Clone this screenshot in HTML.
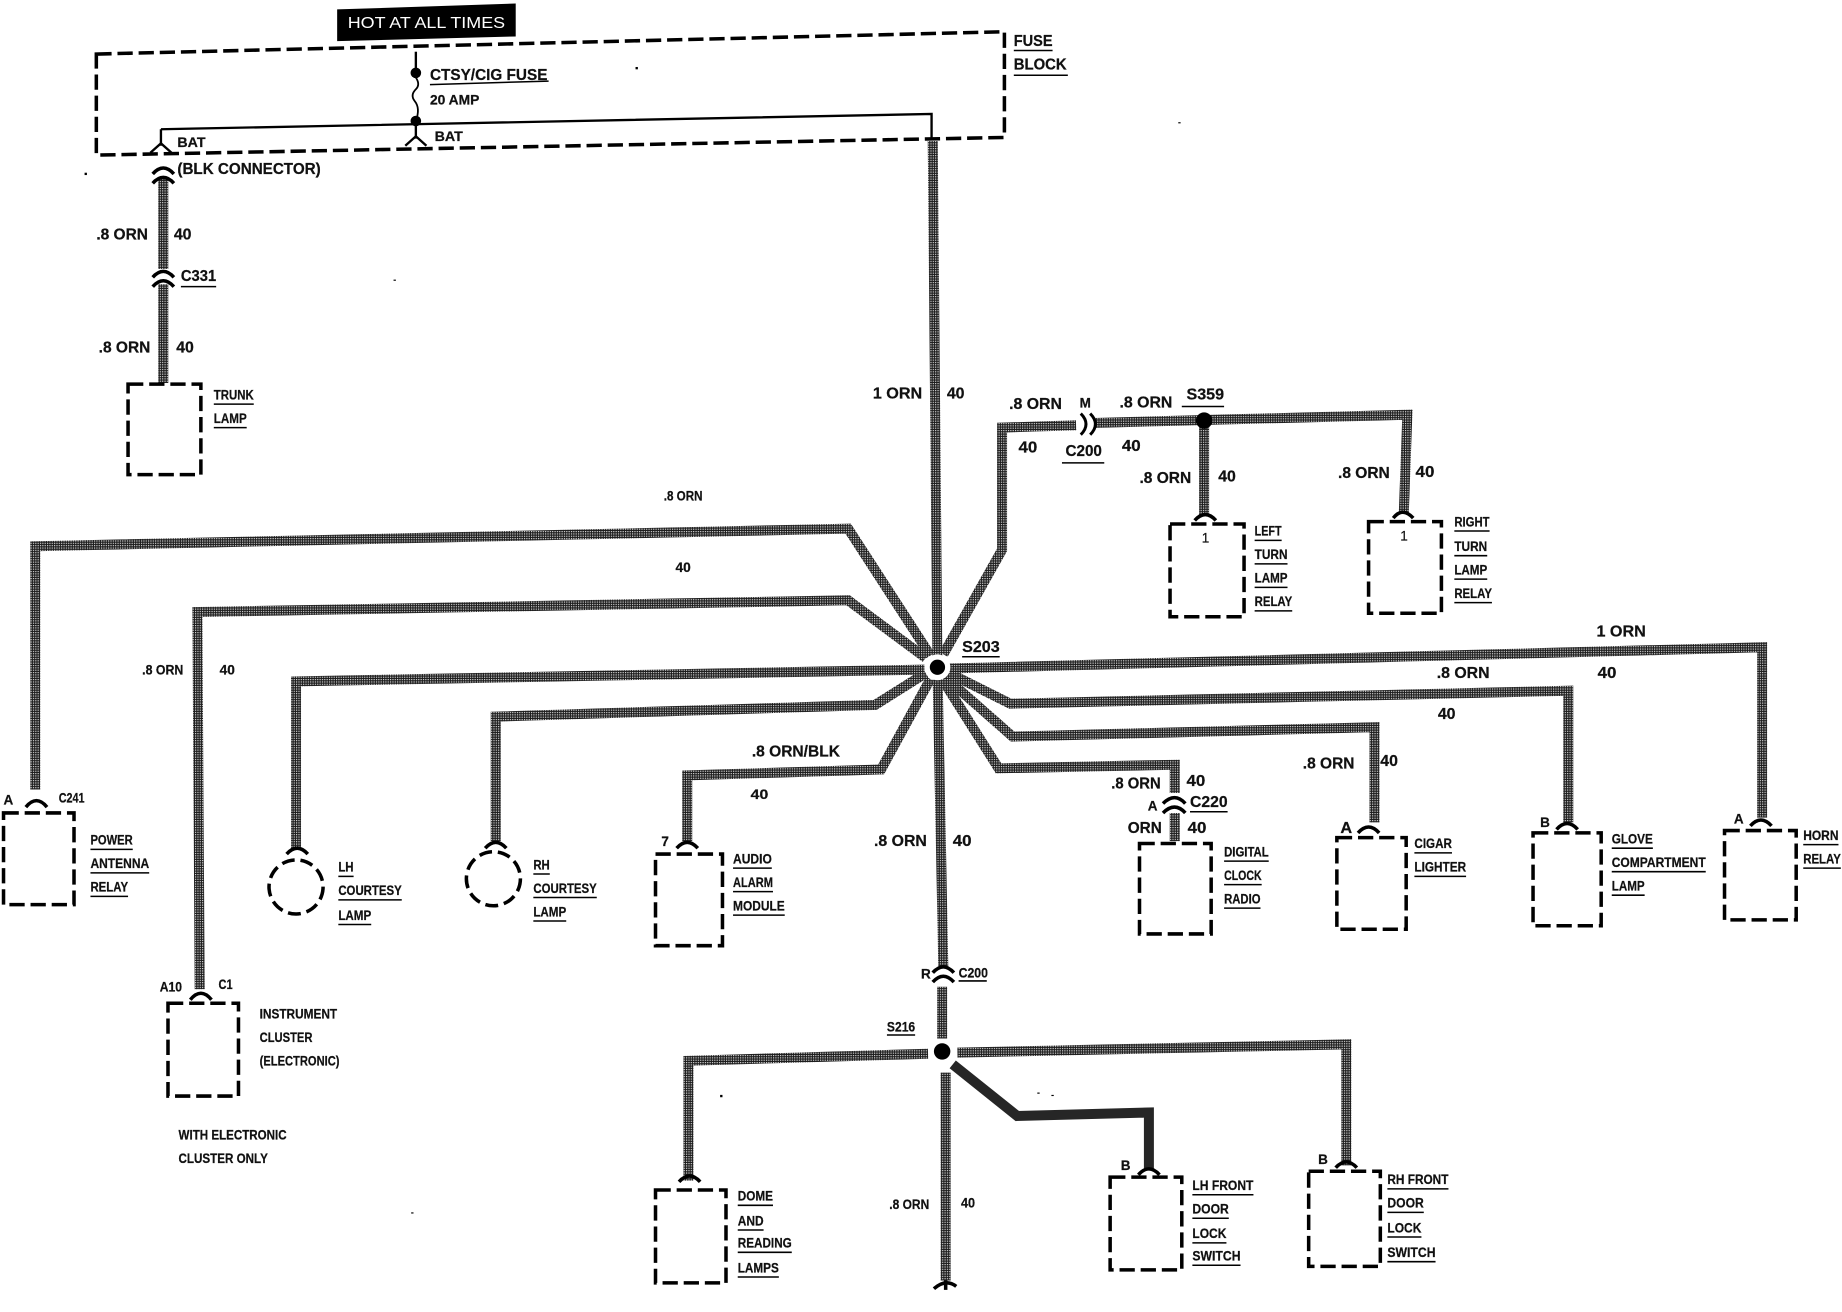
<!DOCTYPE html>
<html><head><meta charset="utf-8"><style>
html,body{margin:0;padding:0;background:#fff}
svg{display:block}
text{font-family:"Liberation Sans",sans-serif;font-weight:700;font-size:13px;fill:#111;stroke:#111;stroke-width:.2}
.s{font-size:11.5px}
.w{fill:none;stroke:url(#d);stroke-width:8.5;stroke-linejoin:miter}
.b{fill:none;stroke:#000;stroke-width:3;stroke-dasharray:13 5}
.t{fill:none;stroke:#000;stroke-width:2}
.c{fill:none;stroke:#000;stroke-width:3}
.u{stroke:#000;stroke-width:1.3}
</style></head><body>
<svg width="1842" height="1312" viewBox="0 0 1568 1116.8" xmlns="http://www.w3.org/2000/svg">
<defs><pattern id="d" width="2" height="2" patternUnits="userSpaceOnUse"><rect width="2" height="2" fill="#1c1c1c"/><rect width="1" height="1" fill="#ddd"/></pattern></defs>

<!-- label -->
<polygon points="287,8 439,3 439,31 287,35" fill="#000"/>
<text x="296" y="24" style="fill:#fff;stroke:none;font-size:13px;font-weight:400" textLength="134" lengthAdjust="spacingAndGlyphs">HOT AT ALL TIMES</text>

<!-- fuse block -->
<polygon points="82,46 855,27 855,117 82,132" class="b"/>
<path class="t" d="M354,44V62"/><circle cx="354" cy="62" r="4.5"/>
<path class="t" style="stroke-width:1.5" d="M354,66q4,6 0,10q-5,5 -1,10q5,6 1,17"/>
<circle cx="354" cy="103" r="4.5"/>
<path class="t" d="M137,110L793,97V118M354,103V118M137,110V124"/>
<path class="t" d="M128,130L137,122L146,130M345,124L354,116L363,124"/>
<text x="151" y="125" class="s" textLength="24" lengthAdjust="spacingAndGlyphs">BAT</text>
<text x="370" y="120" class="s" textLength="24" lengthAdjust="spacingAndGlyphs">BAT</text>
<text x="366" y="68" textLength="100" lengthAdjust="spacingAndGlyphs">CTSY/CIG FUSE</text>
<path class="u" d="M366,72L467,69"/>
<text x="366" y="89" class="s" textLength="42" lengthAdjust="spacingAndGlyphs">20 AMP</text>
<text x="863" y="39" textLength="33" lengthAdjust="spacingAndGlyphs">FUSE</text>
<path class="u" d="M863,43H896"/>
<text x="863" y="59" textLength="45" lengthAdjust="spacingAndGlyphs">BLOCK</text>
<path class="u" d="M863,64H909"/>
<text x="151" y="148" textLength="122" lengthAdjust="spacingAndGlyphs">(BLK CONNECTOR)</text>

<!-- left feed -->
<path class="w" d="M139,152V229M139,242V326"/>
<path class="c" d="M130,148Q139,138 148,148M130,156Q139,146 148,156M130,236Q139,226 148,236M130,244Q139,234 148,244" />
<text x="82" y="204" textLength="44" lengthAdjust="spacingAndGlyphs">.8 ORN</text>
<text x="148" y="204" textLength="15" lengthAdjust="spacingAndGlyphs">40</text>
<text x="154" y="239" textLength="30" lengthAdjust="spacingAndGlyphs">C331</text><path class="u" d="M154,244H184"/>
<text x="84" y="300" textLength="44" lengthAdjust="spacingAndGlyphs">.8 ORN</text>
<text x="150" y="300" textLength="15" lengthAdjust="spacingAndGlyphs">40</text>
<rect x="109" y="327" width="62" height="77" class="b"/>
<text x="182" y="340" class="s" textLength="34" lengthAdjust="spacingAndGlyphs">TRUNK</text><path class="u" d="M182,344H216"/>
<text x="182" y="360" class="s" textLength="28" lengthAdjust="spacingAndGlyphs">LAMP</text><path class="u" d="M182,364H210"/>

<!-- main -->
<path class="w" d="M794,120L798,568L803,824M802,840V884M805,913V1090"/>
<path class="c" d="M794,828Q803,818 812,828M794,836Q803,826 812,836"/>
<path class="c" d="M795,1097Q805,1088 814,1095"/>
<path class="t" style="stroke-width:3" d="M805,1090V1098"/>
<text x="743" y="339" textLength="42" lengthAdjust="spacingAndGlyphs">1 ORN</text>
<text x="806" y="339" textLength="15" lengthAdjust="spacingAndGlyphs">40</text>

<!-- spokes -->
<path class="w" d="M30,672V465L722,450L792,558"/>
<path class="w" d="M170,842L168,521L722,511L788,560"/>
<path class="w" d="M252,722V580L787,570"/>
<path class="w" d="M422,716V610L745,600L788,573"/>
<path class="w" d="M585,716V660L750,655L792,578"/>
<path class="w" d="M803,557L853,468V364L916,362"/>
<path class="w" d="M932,360L1198,353L1195,436"/>
<path class="w" d="M1025,362V438"/>
<path class="w" d="M808,569L1500,551V696"/>
<path class="w" d="M806,572L860,599L1335,588V700"/>
<path class="w" d="M804,576L862,627L1170,619V700"/>
<path class="w" d="M802,578L850,654L1000,651V675M1000,692V716"/>
<circle cx="798" cy="568" r="11" fill="#fff"/><circle cx="798" cy="568" r="6.5"/>
<text x="819" y="555" textLength="32" lengthAdjust="spacingAndGlyphs">S203</text><path class="u" d="M819,559H851"/>

<!-- top right -->
<path class="c" d="M920,352Q929,361 920,370M928,352Q937,361 928,370" style="stroke-width:2.5"/>
<circle cx="1025" cy="358" r="7"/>
<text x="859" y="348" textLength="45" lengthAdjust="spacingAndGlyphs">.8 ORN</text>
<text x="919" y="347" class="s">M</text>
<text x="953" y="347" textLength="45" lengthAdjust="spacingAndGlyphs">.8 ORN</text>
<text x="1010" y="340" textLength="32" lengthAdjust="spacingAndGlyphs">S359</text><path class="u" d="M1006,346H1042"/>
<text x="867" y="385" textLength="16" lengthAdjust="spacingAndGlyphs">40</text>
<text x="955" y="384" textLength="16" lengthAdjust="spacingAndGlyphs">40</text>
<text x="907" y="388" textLength="31" lengthAdjust="spacingAndGlyphs">C200</text><path class="u" d="M904,394H940"/>
<text x="970" y="411" textLength="44" lengthAdjust="spacingAndGlyphs">.8 ORN</text>
<text x="1037" y="410" textLength="15" lengthAdjust="spacingAndGlyphs">40</text>
<text x="1139" y="407" textLength="44" lengthAdjust="spacingAndGlyphs">.8 ORN</text>
<text x="1205" y="406" textLength="16" lengthAdjust="spacingAndGlyphs">40</text>
<path class="c" d="M1017,443Q1026,433 1035,443M1186,441Q1194,431 1203,441"/>
<rect x="996" y="446" width="63" height="79" class="b"/>
<rect x="1165" y="444" width="62" height="78" class="b"/>
<text x="1023" y="462" class="s" style="font-weight:400">1</text>
<text x="1192" y="460" class="s" style="font-weight:400">1</text>
<text x="1068" y="456" class="s" textLength="23" lengthAdjust="spacingAndGlyphs">LEFT</text><path class="u" d="M1068,460H1091"/>
<text x="1068" y="476" class="s" textLength="28" lengthAdjust="spacingAndGlyphs">TURN</text><path class="u" d="M1068,480H1096"/>
<text x="1068" y="496" class="s" textLength="28" lengthAdjust="spacingAndGlyphs">LAMP</text><path class="u" d="M1068,500H1096"/>
<text x="1068" y="516" class="s" textLength="32" lengthAdjust="spacingAndGlyphs">RELAY</text><path class="u" d="M1068,520H1100"/>
<text x="1238" y="448" class="s" textLength="30" lengthAdjust="spacingAndGlyphs">RIGHT</text><path class="u" d="M1238,452H1268"/>
<text x="1238" y="469" class="s" textLength="28" lengthAdjust="spacingAndGlyphs">TURN</text><path class="u" d="M1238,473H1266"/>
<text x="1238" y="489" class="s" textLength="28" lengthAdjust="spacingAndGlyphs">LAMP</text><path class="u" d="M1238,493H1266"/>
<text x="1238" y="509" class="s" textLength="32" lengthAdjust="spacingAndGlyphs">RELAY</text><path class="u" d="M1238,513H1270"/>

<!-- left labels -->
<text x="565" y="426" class="s" textLength="33" lengthAdjust="spacingAndGlyphs">.8 ORN</text>
<text x="575" y="487" class="s" textLength="13" lengthAdjust="spacingAndGlyphs">40</text>
<text x="121" y="574" class="s" textLength="35" lengthAdjust="spacingAndGlyphs">.8 ORN</text>
<text x="187" y="574" class="s" textLength="13" lengthAdjust="spacingAndGlyphs">40</text>
<text x="3" y="685" class="s">A</text>
<text x="50" y="683" class="s" textLength="22" lengthAdjust="spacingAndGlyphs">C241</text>
<path class="c" d="M22,687Q31,676 40,687"/>
<rect x="3" y="692" width="60" height="78" class="b"/>
<text x="77" y="719" class="s" textLength="36" lengthAdjust="spacingAndGlyphs">POWER</text><path class="u" d="M77,723H113"/>
<text x="77" y="739" class="s" textLength="50" lengthAdjust="spacingAndGlyphs">ANTENNA</text><path class="u" d="M77,743H127"/>
<text x="77" y="759" class="s" textLength="32" lengthAdjust="spacingAndGlyphs">RELAY</text><path class="u" d="M77,763H109"/>

<path class="c" d="M162,851Q171,840 180,851"/>
<text x="136" y="844" class="s" textLength="19" lengthAdjust="spacingAndGlyphs">A10</text>
<text x="186" y="842" class="s" textLength="12" lengthAdjust="spacingAndGlyphs">C1</text>
<rect x="143" y="854" width="60" height="79" class="b"/>
<text x="221" y="867" class="s" textLength="66" lengthAdjust="spacingAndGlyphs">INSTRUMENT</text>
<text x="221" y="887" class="s" textLength="45" lengthAdjust="spacingAndGlyphs">CLUSTER</text>
<text x="221" y="907" class="s" textLength="68" lengthAdjust="spacingAndGlyphs">(ELECTRONIC)</text>
<text x="152" y="970" class="s" textLength="92" lengthAdjust="spacingAndGlyphs">WITH ELECTRONIC</text>
<text x="152" y="990" class="s" textLength="76" lengthAdjust="spacingAndGlyphs">CLUSTER ONLY</text>

<path class="c" d="M244,727Q253,717 262,727"/>
<circle cx="252" cy="755" r="23" class="b" style="stroke-dasharray:11 5"/>
<text x="288" y="742" class="s" textLength="13" lengthAdjust="spacingAndGlyphs">LH</text><path class="u" d="M288,746H301"/>
<text x="288" y="762" class="s" textLength="54" lengthAdjust="spacingAndGlyphs">COURTESY</text><path class="u" d="M288,766H342"/>
<text x="288" y="783" class="s" textLength="28" lengthAdjust="spacingAndGlyphs">LAMP</text><path class="u" d="M288,787H316"/>
<path class="c" d="M413,722Q422,712 431,722"/>
<circle cx="420" cy="748" r="23" class="b" style="stroke-dasharray:11 5"/>
<text x="454" y="740" class="s" textLength="14" lengthAdjust="spacingAndGlyphs">RH</text><path class="u" d="M454,744H468"/>
<text x="454" y="760" class="s" textLength="54" lengthAdjust="spacingAndGlyphs">COURTESY</text><path class="u" d="M454,764H508"/>
<text x="454" y="780" class="s" textLength="28" lengthAdjust="spacingAndGlyphs">LAMP</text><path class="u" d="M454,784H482"/>

<text x="640" y="644" textLength="75" lengthAdjust="spacingAndGlyphs">.8 ORN/BLK</text>
<text x="639" y="680" class="s" textLength="15" lengthAdjust="spacingAndGlyphs">40</text>
<text x="563" y="720" class="s">7</text>
<path class="c" d="M576,722Q585,712 594,722"/>
<rect x="558" y="727" width="57" height="78" class="b"/>
<text x="624" y="735" class="s" textLength="33" lengthAdjust="spacingAndGlyphs">AUDIO</text><path class="u" d="M624,739H657"/>
<text x="624" y="755" class="s" textLength="34" lengthAdjust="spacingAndGlyphs">ALARM</text><path class="u" d="M624,759H658"/>
<text x="624" y="775" class="s" textLength="44" lengthAdjust="spacingAndGlyphs">MODULE</text><path class="u" d="M624,779H668"/>

<!-- center -->
<text x="744" y="720" textLength="45" lengthAdjust="spacingAndGlyphs">.8 ORN</text>
<text x="811" y="720" textLength="16" lengthAdjust="spacingAndGlyphs">40</text>
<text x="784" y="833" class="s">R</text>
<text x="816" y="832" class="s" textLength="25" lengthAdjust="spacingAndGlyphs">C200</text><path class="u" d="M816,835H840"/>

<!-- right labels -->
<text x="1359" y="542" textLength="42" lengthAdjust="spacingAndGlyphs">1 ORN</text>
<text x="1360" y="577" textLength="16" lengthAdjust="spacingAndGlyphs">40</text>
<text x="1223" y="577" textLength="45" lengthAdjust="spacingAndGlyphs">.8 ORN</text>
<text x="1224" y="612" textLength="15" lengthAdjust="spacingAndGlyphs">40</text>
<text x="1109" y="654" textLength="44" lengthAdjust="spacingAndGlyphs">.8 ORN</text>
<text x="1175" y="652" textLength="15" lengthAdjust="spacingAndGlyphs">40</text>
<text x="946" y="671" textLength="42" lengthAdjust="spacingAndGlyphs">.8 ORN</text>
<text x="1010" y="669" textLength="16" lengthAdjust="spacingAndGlyphs">40</text>
<text x="977" y="690" class="s">A</text>
<path class="c" d="M990,684Q1000,674 1009,684M990,692Q1000,682 1009,692"/>
<text x="1013" y="687" textLength="32" lengthAdjust="spacingAndGlyphs">C220</text><path class="u" d="M1013,691H1045"/>
<text x="960" y="709" textLength="29" lengthAdjust="spacingAndGlyphs">ORN</text>
<text x="1011" y="709" textLength="16" lengthAdjust="spacingAndGlyphs">40</text>
<rect x="970" y="718" width="61" height="77" class="b"/>
<text x="1042" y="729" class="s" textLength="38" lengthAdjust="spacingAndGlyphs">DIGITAL</text><path class="u" d="M1042,733H1080"/>
<text x="1042" y="749" class="s" textLength="32" lengthAdjust="spacingAndGlyphs">CLOCK</text><path class="u" d="M1042,753H1074"/>
<text x="1042" y="769" class="s" textLength="31" lengthAdjust="spacingAndGlyphs">RADIO</text><path class="u" d="M1042,773H1073"/>

<text x="1141" y="709" textLength="10" lengthAdjust="spacingAndGlyphs">A</text>
<path class="c" d="M1156,709Q1165,699 1174,709"/>
<rect x="1138" y="713" width="59" height="78" class="b"/>
<text x="1204" y="722" class="s" textLength="32" lengthAdjust="spacingAndGlyphs">CIGAR</text><path class="u" d="M1204,726H1236"/>
<text x="1204" y="742" class="s" textLength="44" lengthAdjust="spacingAndGlyphs">LIGHTER</text><path class="u" d="M1204,746H1248"/>

<text x="1311" y="704" class="s">B</text>
<path class="c" d="M1325,706Q1334,696 1343,706"/>
<rect x="1305" y="709" width="58" height="79" class="b"/>
<text x="1372" y="718" class="s" textLength="35" lengthAdjust="spacingAndGlyphs">GLOVE</text><path class="u" d="M1372,722H1407"/>
<text x="1372" y="738" class="s" textLength="80" lengthAdjust="spacingAndGlyphs">COMPARTMENT</text><path class="u" d="M1372,742H1452"/>
<text x="1372" y="758" class="s" textLength="28" lengthAdjust="spacingAndGlyphs">LAMP</text><path class="u" d="M1372,762H1400"/>

<text x="1476" y="701" class="s">A</text>
<path class="c" d="M1490,703Q1499,693 1508,703"/>
<rect x="1468" y="707" width="61" height="76" class="b"/>
<text x="1535" y="715" class="s" textLength="30" lengthAdjust="spacingAndGlyphs">HORN</text><path class="u" d="M1535,719H1565"/>
<text x="1535" y="735" class="s" textLength="32" lengthAdjust="spacingAndGlyphs">RELAY</text><path class="u" d="M1535,739H1567"/>

<!-- S216 -->
<text x="755" y="878" class="s" textLength="24" lengthAdjust="spacingAndGlyphs">S216</text><path class="u" d="M755,881H779"/>
<path class="w" d="M790,897L586,903V1005"/>
<path class="w" d="M815,896L1146,889V992"/>
<path class="w" d="M811,906L866,950L978,947V996" style="stroke:#262626"/>
<circle cx="802" cy="895" r="7"/>
<path class="c" d="M969,1000Q978,990 987,1000M1137,994Q1146,984 1155,994M578,1006Q587,996 596,1006"/>
<text x="954" y="996" class="s">B</text>
<text x="1122" y="991" class="s">B</text>
<rect x="558" y="1013" width="60" height="79" class="b"/>
<rect x="945" y="1002" width="61" height="79" class="b"/>
<rect x="1114" y="997" width="61" height="81" class="b"/>
<text x="628" y="1022" class="s" textLength="30" lengthAdjust="spacingAndGlyphs">DOME</text><path class="u" d="M628,1026H658"/>
<text x="628" y="1043" class="s" textLength="22" lengthAdjust="spacingAndGlyphs">AND</text><path class="u" d="M628,1047H650"/>
<text x="628" y="1062" class="s" textLength="46" lengthAdjust="spacingAndGlyphs">READING</text><path class="u" d="M628,1066H674"/>
<text x="628" y="1083" class="s" textLength="35" lengthAdjust="spacingAndGlyphs">LAMPS</text><path class="u" d="M628,1087H663"/>
<text x="1015" y="1013" class="s" textLength="52" lengthAdjust="spacingAndGlyphs">LH FRONT</text><path class="u" d="M1015,1017H1067"/>
<text x="1015" y="1033" class="s" textLength="31" lengthAdjust="spacingAndGlyphs">DOOR</text><path class="u" d="M1015,1037H1046"/>
<text x="1015" y="1054" class="s" textLength="29" lengthAdjust="spacingAndGlyphs">LOCK</text><path class="u" d="M1015,1058H1044"/>
<text x="1015" y="1073" class="s" textLength="41" lengthAdjust="spacingAndGlyphs">SWITCH</text><path class="u" d="M1015,1077H1056"/>
<text x="1181" y="1008" class="s" textLength="52" lengthAdjust="spacingAndGlyphs">RH FRONT</text><path class="u" d="M1181,1012H1233"/>
<text x="1181" y="1028" class="s" textLength="31" lengthAdjust="spacingAndGlyphs">DOOR</text><path class="u" d="M1181,1032H1212"/>
<text x="1181" y="1049" class="s" textLength="29" lengthAdjust="spacingAndGlyphs">LOCK</text><path class="u" d="M1181,1053H1210"/>
<text x="1181" y="1070" class="s" textLength="41" lengthAdjust="spacingAndGlyphs">SWITCH</text><path class="u" d="M1181,1074H1222"/>
<text x="757" y="1029" class="s" textLength="34" lengthAdjust="spacingAndGlyphs">.8 ORN</text>
<text x="818" y="1028" class="s" textLength="12" lengthAdjust="spacingAndGlyphs">40</text>

<!-- scan specks -->
<g fill="#000"><rect x="72" y="147" width="2" height="2"/><rect x="541" y="57" width="2" height="2"/><rect x="1003" y="104" width="2" height="1"/><rect x="335" y="238" width="2" height="1"/><rect x="883" y="930" width="2" height="1"/><rect x="895" y="932" width="2" height="1"/><rect x="613" y="932" width="2" height="2"/><rect x="350" y="1032" width="2" height="1"/></g>
</svg>
</body></html>
